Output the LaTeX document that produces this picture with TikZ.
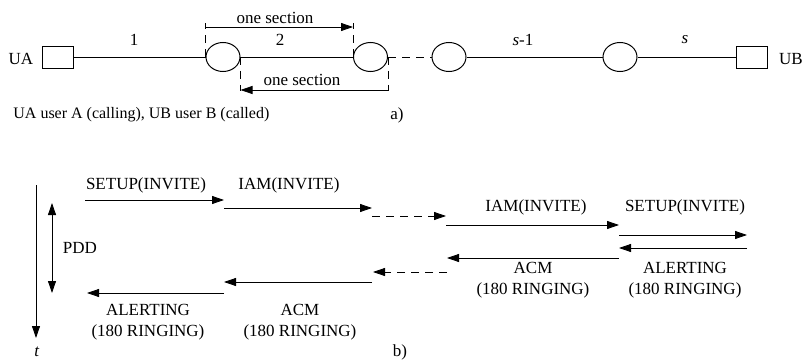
\documentclass[tikz,border=0pt]{standalone}
\usepackage{fontspec}
\setmainfont{Liberation Serif}
\newfontfamily\msgfont{Liberation Serif}
\usetikzlibrary{shapes.geometric,arrows.meta}

\begin{document}
\begin{tikzpicture}[x=1pt,y=-1pt,font=\msgfont\fontsize{17}{21}\selectfont,
  line width=0.8pt,>={Triangle[length=12pt,width=8pt]},
  term/.style={draw,rectangle,minimum width=31pt,minimum height=22pt,inner sep=0pt},
  exch/.style={draw,ellipse,minimum width=34pt,minimum height=29pt,inner sep=0pt,line width=1pt},
  lbl/.style={align=center,inner sep=0pt},
  gap/.style={dash pattern=on 8pt off 6pt}]
\useasboundingbox (0,0) rectangle (804,361);

%Part a
\begin{scope}
\node[term] (UA) at (57.5,57) {};
\node[exch] (ex1) at (223,57) {};
\node[exch] (ex2) at (370.5,57) {};
\node[exch] (ex3) at (449,57) {};
\node[exch] (ex4) at (620,57) {};
\node[term] (UB) at (751.5,57) {};
\node[lbl] (UAtxt) at (21,59) {UA};
\node[lbl] (UBtxt) at (791,59) {UB};
\draw (UA) -- (ex1);
\draw (ex1) -- (ex2);
\draw[gap] (ex2) -- (ex3);
\draw (ex3) -- (ex4);
\draw (ex4) -- (UB);
\node[lbl] (sec1) at (134,40) {1};
\node[lbl] (sec2) at (280,40) {2};
\node[lbl] (secs1) at (523,40) {\textit{s}-1};
\node[lbl] (secs) at (685,40) {\textit{s}};
% one section, forward
\coordinate (fwA) at (ex1.west |- 0,23);
\coordinate (fwB) at (ex2.west |- 0,23);
\coordinate (fwa) at (ex1.west |- 0,27);
\coordinate (fwb) at (ex2.west |- 0,27);
\draw[gap] (ex1.west) -- (fwA);
\draw[gap] (ex2.west) -- (fwB);
\draw[->] (fwa) -- (fwb);
\node[lbl] (fwtxt) at (275,18) {one section};
% one section, backward
\coordinate (bwA) at (ex1.east |- 0,91);
\coordinate (bwB) at (ex2.east |- 0,91);
\coordinate (bwa) at (ex1.east |- 0,90);
\coordinate (bwb) at (ex2.east |- 0,90);
\draw[gap] (ex1.east) -- (bwA);
\draw[gap] (ex2.east) -- (bwB);
\draw[->] (bwb) -- (bwa);
\node[lbl] (bwtxt) at (302,80) {one section};
\node[lbl,anchor=west,font=\msgfont\fontsize{16}{19}\selectfont] (capa) at (13,115) {UA user A (calling), UB user B (called)};
\node[lbl] (parta) at (397,115) {a)};
\end{scope}

%Part b
\begin{scope}
\coordinate (t0) at (36,185);
\coordinate (t1) at (36,338);
\draw[->] (t0) -- (t1);
\node[lbl] (ttxt) at (37,352) {\textit{t}};
\coordinate (pdd0) at (52,203);
\coordinate (pdd1) at (52,293);
\draw[<->] (pdd0) -- (pdd1);
\node[lbl] (pdd) at (80,248) {PDD};
% forward messages
\coordinate (f1a) at (85,200);  \coordinate (f1b) at (224,200);
\coordinate (f2a) at (224,208); \coordinate (f2b) at (372,208);
\coordinate (f3a) at (372,216); \coordinate (f3b) at (446,216);
\coordinate (f4a) at (446,225); \coordinate (f4b) at (619,225);
\coordinate (f5a) at (619,235); \coordinate (f5b) at (747,235);
\draw[->] (f1a) -- (f1b);
\draw[->] (f2a) -- (f2b);
\draw[->,gap] (f3a) -- (f3b);
\draw[->] (f4a) -- (f4b);
\draw[->] (f5a) -- (f5b);
\node[lbl] (setupA) at (146,185) {SETUP(INVITE)};
\node[lbl] (iamA) at (289,185) {IAM(INVITE)};
\node[lbl] (iamB) at (536,207) {IAM(INVITE)};
\node[lbl] (setupB) at (685,207) {SETUP(INVITE)};
% backward messages
\coordinate (r1a) at (747,248); \coordinate (r1b) at (619,248);
\coordinate (r2a) at (619,258); \coordinate (r2b) at (447,258);
\coordinate (r3a) at (447,272); \coordinate (r3b) at (373,272);
\coordinate (r4a) at (372,282); \coordinate (r4b) at (224,282);
\coordinate (r5a) at (224,293); \coordinate (r5b) at (87,293);
\draw[->] (r1a) -- (r1b);
\draw[->] (r2a) -- (r2b);
\draw[->,gap] (r3a) -- (r3b);
\draw[->] (r4a) -- (r4b);
\draw[->] (r5a) -- (r5b);
\node[lbl] (alertB) at (685,280) {ALERTING\\(180 RINGING)};
\node[lbl] (acmB) at (533,280) {ACM\\(180 RINGING)};
\node[lbl] (acmA) at (300,322) {ACM\\(180 RINGING)};
\node[lbl] (alertA) at (148,322) {ALERTING\\(180 RINGING)};
\node[lbl] (partb) at (400,352) {b)};
\end{scope}

\end{tikzpicture}
\end{document}
